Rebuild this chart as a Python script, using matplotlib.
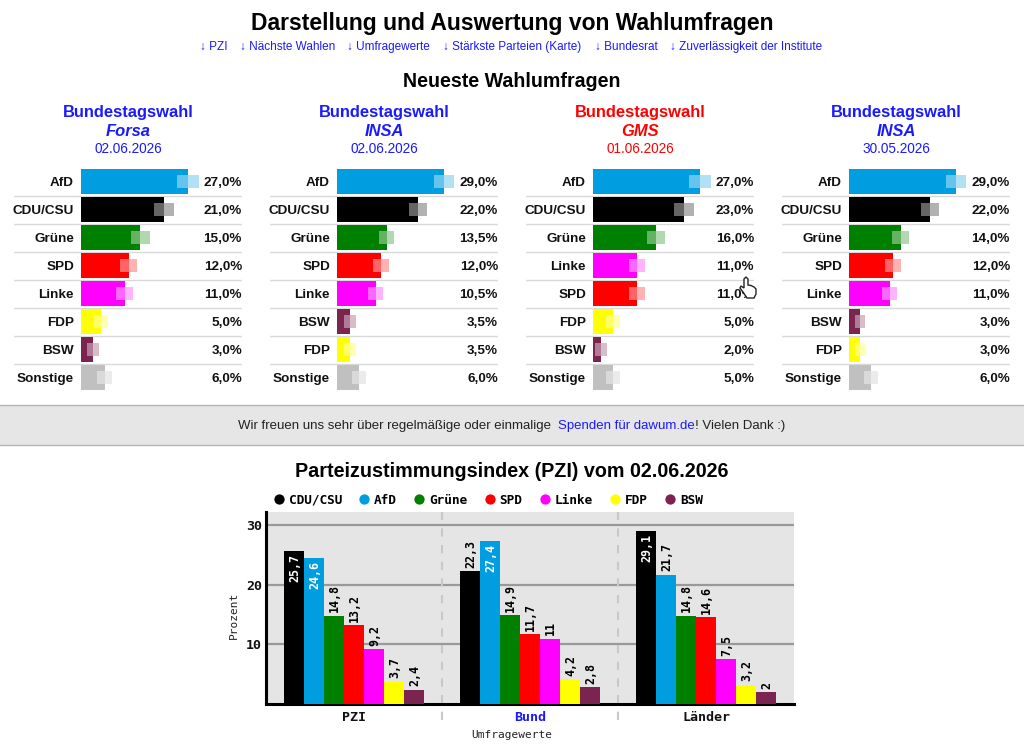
import matplotlib
matplotlib.use("Agg")
import matplotlib.pyplot as plt
from matplotlib.lines import Line2D
from matplotlib.patches import Polygon, Rectangle

W, H = 1024, 744
SANS = "Liberation Sans"
MONO = "DejaVu Sans Mono"
BLUE = "#1a1aff"

COLORS = {"AfD": "#009ee0", "CDU/CSU": "#000000", "Grüne": "#008000", "SPD": "#ff0000",
          "Linke": "#ff00ff", "FDP": "#ffff00", "BSW": "#7b2450", "Sonstige": "#c0c0c0"}

# Latest polls
forsa_parties = ["AfD", "CDU/CSU", "Grüne", "SPD", "Linke", "FDP", "BSW", "Sonstige"]
forsa_values = [27.0, 21.0, 15.0, 12.0, 11.0, 5.0, 3.0, 6.0]
forsa_margins = [2.7, 2.5, 2.3, 2.1, 2.05, 1.7, 1.6, 1.85]

insa1_parties = ["AfD", "CDU/CSU", "Grüne", "SPD", "Linke", "BSW", "FDP", "Sonstige"]
insa1_values = [29.0, 22.0, 13.5, 12.0, 10.5, 3.5, 3.5, 6.0]
insa1_margins = [2.7, 2.5, 2.05, 2.15, 2.0, 1.6, 1.6, 1.85]

gms_parties = ["AfD", "CDU/CSU", "Grüne", "Linke", "SPD", "FDP", "BSW", "Sonstige"]
gms_values = [27.0, 23.0, 16.0, 11.0, 11.0, 5.0, 2.0, 5.0]
gms_margins = [2.75, 2.55, 2.25, 2.0, 2.0, 1.75, 1.5, 1.7]

insa2_parties = ["AfD", "CDU/CSU", "Grüne", "SPD", "Linke", "BSW", "FDP", "Sonstige"]
insa2_values = [29.0, 22.0, 14.0, 12.0, 11.0, 3.0, 3.0, 6.0]
insa2_margins = [2.65, 2.5, 2.35, 2.15, 2.05, 1.45, 1.45, 1.85]

# Approval index
pzi_groups = ["PZI", "Bund", "Länder"]
pzi_cdu = [25.7, 22.3, 29.1]
pzi_afd = [24.6, 27.4, 21.7]
pzi_gruene = [14.8, 14.9, 14.8]
pzi_spd = [13.2, 11.7, 14.6]
pzi_linke = [9.2, 11, 7.5]
pzi_fdp = [3.7, 4.2, 3.2]
pzi_bsw = [2.4, 2.8, 2]
pzi_names = ["CDU/CSU", "AfD", "Grüne", "SPD", "Linke", "FDP", "BSW"]
pzi_series = [pzi_cdu, pzi_afd, pzi_gruene, pzi_spd, pzi_linke, pzi_fdp, pzi_bsw]

nav_labels = ["↓ PZI", "↓ Nächste Wahlen", "↓ Umfragewerte", "↓ Stärkste Parteien (Karte)",
              "↓ Bundesrat", "↓ Zuverlässigkeit der Institute"]


def px_axes(left, top, right, bottom, **kw):
    return fig.add_axes([left / W, 1 - bottom / H, (right - left) / W, (bottom - top) / H], **kw)


fig = plt.figure(figsize=(W / 100, H / 100), dpi=100, facecolor="white")

page = px_axes(0, 0, W, H)
page.set_xlim(0, W)
page.set_ylim(H, 0)
page.axis("off")

page.text(512, 23.5, "Darstellung und Auswertung von Wahlumfragen", family=SANS, weight="bold",
          fontsize=16.5, ha="center", va="center", color="black")
for x, s in zip([200, 240, 347, 443, 595, 670], nav_labels):
    page.text(x, 47, s, family=SANS, fontsize=8.5, va="center", color=BLUE)
page.text(512, 81.5, "Neueste Wahlumfragen", family=SANS, weight="bold", fontsize=14.1,
          ha="center", va="center", color="black")

page.add_patch(Rectangle((-5, 405), W + 10, 40, facecolor="#e6e6e6", edgecolor="#b4b4b4", linewidth=1))
page.text(238, 426, "Wir freuen uns sehr über regelmäßige oder einmalige", family=SANS,
          fontsize=9.52, va="center", color="#222222")
page.text(557.5, 426, "Spenden für dawum.de", family=SANS, fontsize=9.5, va="center", color=BLUE)
page.text(695, 426, "! Vielen Dank :)", family=SANS, fontsize=9.5, va="center", color="#222222")
page.text(512, 471.5, "Parteizustimmungsindex (PZI) vom 02.06.2026", family=SANS, weight="bold",
          fontsize=14.2, ha="center", va="center", color="black")


def poll_panel(left, institute, date, head_color, parties, values, margins):
    centre = left + 114.5
    page.text(centre, 113, "Bundestagswahl", family=SANS, weight="bold", fontsize=11.9,
              ha="center", va="center", color=head_color)
    page.text(centre, 132, institute, family=SANS, weight="bold", style="italic", fontsize=11.9,
              ha="center", va="center", color=head_color)
    page.text(centre, 149, date, family=SANS, fontsize=9.8, ha="center", va="center", color=head_color)

    ax = px_axes(left, 167.5, left + 228, 391.5)
    scale = 107 / max(values)
    ax.set_xlim(-67 / scale, 161 / scale)
    ax.set_ylim(7.5, -0.5)
    ax.axis("off")
    rows = list(range(len(parties)))
    colors = [COLORS[p] for p in parties]
    ax.barh(rows, values, height=0.92, color=colors, zorder=2)
    ax.barh(rows, margins, left=[v - m for v, m in zip(values, margins)], height=0.45,
            color="white", alpha=0.4, zorder=3)
    ax.barh(rows, margins, left=values, height=0.45, color=colors, alpha=0.3, zorder=3)
    for r in rows[:-1]:
        ax.axhline(r + 0.5, color="#d9d9d9", linewidth=1, zorder=1)
    trans = ax.get_yaxis_transform()
    for r, p, v in zip(rows, parties, values):
        ax.annotate(p, (0, r), xytext=(-5, -1), textcoords="offset points", family=SANS, weight="bold",
                    fontsize=9.7, ha="right", va="center", color="#111111")
        ax.annotate(f"{v:.1f}%".replace(".", ","), (1, r), xycoords=trans, xytext=(0, -1),
                    textcoords="offset points", family=SANS, weight="bold",
                    fontsize=9.7, ha="right", va="center", color="#111111", zorder=6)


poll_panel(14, "Forsa", "02.06.2026", BLUE, forsa_parties, forsa_values, forsa_margins)
poll_panel(270, "INSA", "02.06.2026", BLUE, insa1_parties, insa1_values, insa1_margins)
poll_panel(526, "GMS", "01.06.2026", "#ff0000", gms_parties, gms_values, gms_margins)
poll_panel(782, "INSA", "30.05.2026", BLUE, insa2_parties, insa2_values, insa2_margins)

# Approval index chart
ax = px_axes(266, 512, 794, 704)
ax.set_facecolor("#e5e5e5")
ax.set_xlim(-0.5, 2.5)
ax.set_ylim(0, 32.25)
bar_w = 20 / 176
for k, (name, series) in enumerate(zip(pzi_names, pzi_series)):
    xs = [g + (k - 3) * bar_w for g in range(len(pzi_groups))]
    ax.bar(xs, series, width=bar_w, color=COLORS[name], zorder=3)
    for x, v in zip(xs, series):
        inside = v > 24
        ax.annotate(f"{v:g}".replace(".", ","), (x, v), xytext=(0.5, -2.5 if inside else 2.5),
                    textcoords="offset points", rotation=90, ha="center",
                    va="top" if inside else "bottom", family=MONO, weight="bold", fontsize=8.4,
                    color="white" if inside else "black", zorder=5)

ax.set_yticks([10, 20, 30], ["10", "20", "30"])
ax.set_xticks(range(3), pzi_groups)
ax.yaxis.grid(True, color="#999999", linewidth=1.6, zorder=1)
ax.set_axisbelow(True)
for sp in ("top", "right"):
    ax.spines[sp].set_visible(False)
for sp in ("left", "bottom"):
    ax.spines[sp].set_linewidth(2.2)
    ax.spines[sp].set_color("black")
ax.tick_params(axis="y", length=0, pad=3)
ax.tick_params(axis="x", length=0, pad=5)
for t in ax.get_yticklabels() + ax.get_xticklabels():
    t.set_family(MONO)
    t.set_weight("bold")
    t.set_fontsize(9.6)
    t.set_color("#111111")
ax.get_xticklabels()[1].set_color(BLUE)
for x in (0.5, 1.5):
    ax.plot([x, x], [-0.083, 1], transform=ax.get_xaxis_transform(), color="#c8c8c8", linewidth=1.5,
            linestyle=(0, (4, 4)), clip_on=False, zorder=2)

page.text(234, 615, "Prozent", family=MONO, fontsize=8, rotation=90, ha="center", va="center", color="#222222")
page.text(512, 734.5, "Umfragewerte", family=MONO, fontsize=8, ha="center", va="center", color="#222222")

handles = [Line2D([], [], linestyle="none", marker="o", markersize=7.4, markerfacecolor=COLORS[n],
                  markeredgecolor="none", label=n) for n in pzi_names]
fig.legend(handles=handles, ncol=7, loc="center left", bbox_to_anchor=(272.5 / W, 1 - 500 / H),
           frameon=False, prop=dict(family=MONO, size=9.2, weight="bold"), borderpad=0, borderaxespad=0,
           handlelength=1.0, handletextpad=0.26, columnspacing=1.257)

# mouse pointer captured in the screenshot
cursor = px_axes(0, 0, W, H)
cursor.set_xlim(0, W)
cursor.set_ylim(H, 0)
cursor.axis("off")
cursor.add_patch(Polygon([(744, 279), (746, 277), (748, 279), (748, 285), (751, 285.5), (754, 287),
                          (756, 289), (756, 294), (754, 298), (747, 298), (743, 292), (740, 288),
                          (741, 286), (744, 288)], closed=True, facecolor="white", edgecolor="#222222",
                         linewidth=1))

fig.savefig("out.png", dpi=100)
